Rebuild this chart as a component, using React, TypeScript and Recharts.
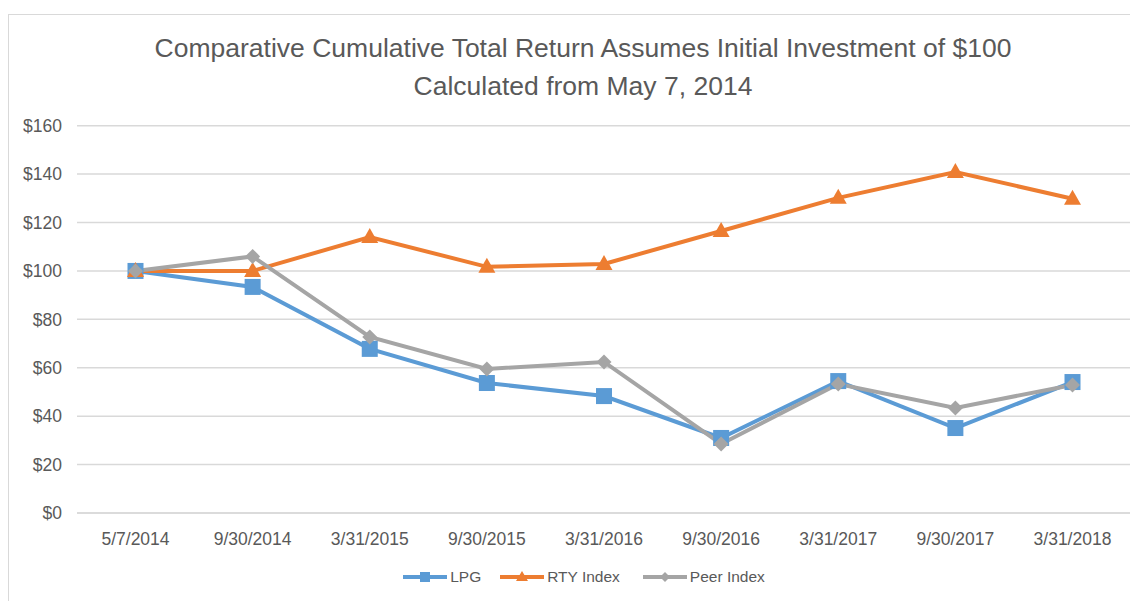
import React from "react";
import { LineChart, Line, XAxis, YAxis, CartesianGrid } from "recharts";

const categories = ["5/7/2014", "9/30/2014", "3/31/2015", "9/30/2015", "3/31/2016", "9/30/2016", "3/31/2017", "9/30/2017", "3/31/2018"];
const lpg = [100, 93.4, 67.8, 53.7, 48.3, 31.0, 54.5, 35.1, 54.1];
const rty = [100, 100, 114, 101.7, 102.9, 116.5, 130.2, 140.9, 129.8];
const peer = [100, 106, 72.7, 59.5, 62.4, 28.5, 53.3, 43.4, 52.9];
const yTicks = [0, 20, 40, 60, 80, 100, 120, 140, 160];

const data = categories.map((c, i) => ({ date: c, lpg: lpg[i], rty: rty[i], peer: peer[i] }));

const BLUE = "#5B9BD5";
const ORANGE = "#ED7D31";
const GRAY = "#A5A5A5";
const TEXT = "#595959";
const FONT = "'Liberation Sans', sans-serif";

const SquareDot = (p: any) => {
  const { cx, cy } = p;
  if (cx == null || cy == null) return null;
  const s = 16;
  return <rect key={p.key} x={cx - s / 2} y={cy - s / 2} width={s} height={s} fill={BLUE} />;
};
const TriDot = (p: any) => {
  const { cx, cy } = p;
  if (cx == null || cy == null) return null;
  const w = 17, h = 15;
  return <polygon key={p.key} points={`${cx},${cy - h * 0.6} ${cx + w / 2},${cy + h * 0.4} ${cx - w / 2},${cy + h * 0.4}`} fill={ORANGE} />;
};
const DiaDot = (p: any) => {
  const { cx, cy } = p;
  if (cx == null || cy == null) return null;
  const r = 7.5;
  return <polygon key={p.key} points={`${cx},${cy - r} ${cx + r},${cy} ${cx},${cy + r} ${cx - r},${cy}`} fill={GRAY} />;
};

const LegendItem = ({ color, label, shape, gap }: { color: string; label: string; shape: string; gap: number }) => (
  <span style={{ display: "inline-flex", alignItems: "center", marginRight: gap }}>
    <svg width={44} height={14} style={{ marginRight: 3 }}>
      <line x1={0} y1={7} x2={44} y2={7} stroke={color} strokeWidth={4} />
      {shape === "square" && <rect x={17} y={2} width={10} height={10} fill={color} />}
      {shape === "tri" && <polygon points="22,1 28,11 16,11" fill={color} />}
      {shape === "dia" && <polygon points="22,2 27,7 22,12 17,7" fill={color} />}
    </svg>
    <span>{label}</span>
  </span>
);

export default function App() {
  return (
    <div style={{ position: "relative", width: 1130, height: 593, fontFamily: FONT }}>
      <div style={{ position: "absolute", left: 0, top: 6, width: 1129, height: 587, borderTop: "1px solid #d9d9d9", borderLeft: "1px solid #d9d9d9", borderRight: "1px solid #d9d9d9", boxSizing: "border-box" }} />
      <div style={{ position: "absolute", left: 10, width: 1130, top: 21, textAlign: "center", color: TEXT, fontSize: 26.5, lineHeight: "38px" }}>
        <div>Comparative Cumulative Total Return Assumes Initial Investment of $100</div>
        <div>Calculated from May 7, 2014</div>
      </div>
      <LineChart width={1130} height={593} data={data} margin={{ top: 117.7, right: 7, bottom: 58, left: 0 }}>
        <CartesianGrid vertical={false} stroke="#d9d9d9" strokeWidth={1.5} />
        <XAxis dataKey="date" padding={{ left: 58.5, right: 58.5 }} axisLine={{ stroke: "#d9d9d9", strokeWidth: 1.5 }} tickLine={false} tickMargin={14} height={30} interval={0} tick={{ fill: TEXT, fontSize: 17.5, fontFamily: FONT }} />
        <YAxis domain={[0, 160]} ticks={yTicks} axisLine={false} tickLine={false} width={69} tickMargin={9} tickFormatter={(v: number) => `$${v}`} tick={{ fill: TEXT, fontSize: 17.5, fontFamily: FONT }} />
        <Line dataKey="lpg" stroke={BLUE} strokeWidth={4} dot={SquareDot} activeDot={false} isAnimationActive={false} />
        <Line dataKey="rty" stroke={ORANGE} strokeWidth={4} dot={TriDot} activeDot={false} isAnimationActive={false} />
        <Line dataKey="peer" stroke={GRAY} strokeWidth={4} dot={DiaDot} activeDot={false} isAnimationActive={false} />
      </LineChart>
      <div style={{ position: "absolute", left: 11, width: 1130, top: 560, display: "flex", justifyContent: "center", color: TEXT, fontSize: 15.5 }}>
        <LegendItem color={BLUE} label="LPG" shape="square" gap={19} />
        <LegendItem color={ORANGE} label="RTY Index" shape="tri" gap={23} />
        <LegendItem color={GRAY} label="Peer Index" shape="dia" gap={0} />
      </div>
    </div>
  );
}
